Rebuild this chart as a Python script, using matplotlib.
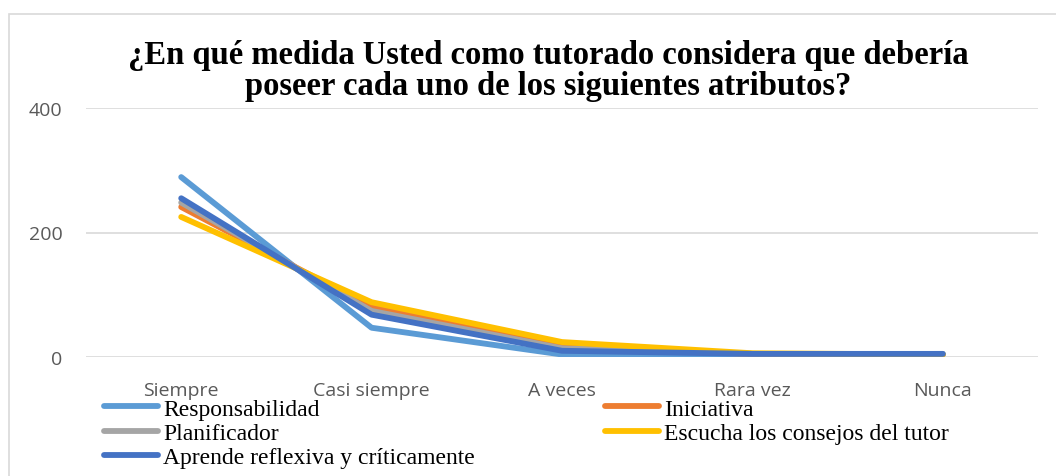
import matplotlib
matplotlib.use("Agg")
import matplotlib.pyplot as plt
from matplotlib.lines import Line2D
from matplotlib.patches import Rectangle

categories = ["Siempre", "Casi siempre", "A veces", "Rara vez", "Nunca"]
series_names = ["Responsabilidad", "Iniciativa", "Planificador",
                "Escucha los consejos del tutor", "Aprende reflexiva y críticamente"]
responsabilidad = [289, 47, 4, 4, 5]
iniciativa = [241, 80, 17, 5, 4]
planificador = [248, 74, 14, 5, 4]
escucha = [225, 88, 24, 6, 4]
aprende = [255, 68, 10, 5, 5]
values = [responsabilidad, iniciativa, planificador, escucha, aprende]
colors = ["#5B9BD5", "#ED7D31", "#A5A5A5", "#FFC000", "#4472C4"]
yticks = [0, 200, 400]
title = "¿En qué medida Usted como tutorado considera que debería\nposeer cada uno de los siguientes atributos?"

W, H = 1056, 477
fig = plt.figure(figsize=(W / 100, H / 100), dpi=100)

# chart area border
fig.patches.append(Rectangle((9 / W, -0.1), 1.2, (H - 15) / H + 0.1,
                             transform=fig.transFigure, fill=False,
                             edgecolor="#D9D9D9", linewidth=1.2))

ax = fig.add_axes([86 / W, 1 - 358 / H, (1038 - 86) / W, (358 - 109) / H])
x = list(range(len(categories)))
for i in range(len(values)):
    ax.plot(x, values[i], color=colors[i], linewidth=4.2,
            solid_capstyle="round", solid_joinstyle="round", zorder=3)

ax.set_xlim(-0.5, len(categories) - 0.5)
ax.set_ylim(0, 400)
ax.set_yticks(yticks)
ax.set_yticklabels([str(v) for v in yticks], fontfamily="Open Sans", fontsize=14, color="#595959")
ax.set_xticks(x)
ax.set_xticklabels(categories, fontfamily="Open Sans", fontsize=14, color="#595959")
ax.tick_params(axis="x", length=0, pad=17)
ax.tick_params(axis="y", length=0, pad=17)
for s in ax.spines.values():
    s.set_visible(False)
ax.grid(axis="y", color="#D9D9D9", linewidth=1.2, zorder=0)
ax.set_axisbelow(True)

fig.text(548 / W, 1 - 71 / H, title, ha="center", va="center",
         fontfamily="Liberation Serif", fontweight="bold", fontsize=23.5,
         linespacing=0.98)

handles = [Line2D([0], [0], color=c, linewidth=4.2, solid_capstyle="round") for c in colors]
leg_order = [0, 2, 4, 1, 3]
leg = fig.legend([handles[i] for i in leg_order], [series_names[i] for i in leg_order],
                 ncol=2, loc="upper left", bbox_to_anchor=(104 / W, 1 - 399 / H),
                 frameon=False, prop={"family": "Liberation Serif", "size": 17},
                 handlelength=2.3, handletextpad=0.2, columnspacing=5.5,
                 labelspacing=0.12, borderpad=0, borderaxespad=0)

fig.savefig("out.png", dpi=100)
